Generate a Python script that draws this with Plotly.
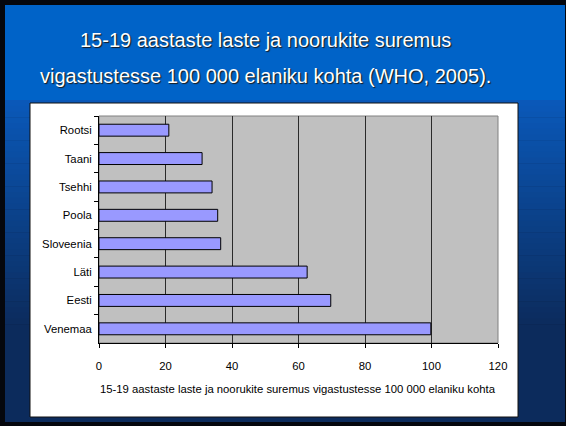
import plotly.graph_objects as go

# ---- data ----
countries = ["Rootsi", "Taani", "Tsehhi", "Poola", "Sloveenia", "Läti", "Eesti", "Venemaa"]
values = [21.0, 31.0, 34.0, 35.7, 36.6, 62.6, 69.7, 99.8]
x_ticks = [0, 20, 40, 60, 80, 100, 120]
title_line1 = "15-19 aastaste laste ja noorukite suremus"
title_line2 = "vigastustesse 100 000 elaniku kohta (WHO, 2005)."
x_title = "15-19 aastaste laste ja noorukite suremus vigastustesse 100 000 elaniku kohta"

W, H = 566, 426
L, R, T, B = 99, 498, 116, 343  # plot area in pixels


def px(x):
    return (x - L) / (R - L)


def py(y):
    return (B - y) / (B - T)


def lerp(c1, c2, t):
    return "#%02x%02x%02x" % tuple(int(round(a + (b - a) * t)) for a, b in zip(c1, c2))


shapes = []
# black slide frame
shapes.append(dict(type="rect", xref="paper", yref="paper", x0=px(0), x1=px(W), y0=py(H), y1=py(0),
                   fillcolor="#05070d", line_width=0, layer="below"))
# blue gradient background
mid_c = (10, 88, 184)
bot_c = (12, 43, 92)
shapes.append(dict(type="rect", xref="paper", yref="paper", x0=px(5), x1=px(W - 1), y0=py(100), y1=py(5),
                   fillcolor="#0063c8", line_width=0, layer="below"))
n = 40
y_start, y_end = 100, 330
for i in range(n):
    y0 = y_start + (y_end - y_start) * i / n
    y1 = y_start + (y_end - y_start) * (i + 1) / n + 0.5
    shapes.append(dict(type="rect", xref="paper", yref="paper", x0=px(5), x1=px(W - 1), y0=py(y1), y1=py(y0),
                       fillcolor=lerp(mid_c, bot_c, i / (n - 1)), line_width=0, layer="below"))
shapes.append(dict(type="rect", xref="paper", yref="paper", x0=px(5), x1=px(W - 1), y0=py(H - 4), y1=py(y_end),
                   fillcolor=lerp(mid_c, bot_c, 1), line_width=0, layer="below"))
# white chart box
shapes.append(dict(type="rect", xref="paper", yref="paper", x0=px(30), x1=px(518), y0=py(417), y1=py(103),
                   fillcolor="white", line=dict(color="#111111", width=1), layer="below"))
# gray plot area
shapes.append(dict(type="rect", xref="paper", yref="paper", x0=0, x1=1, y0=0, y1=1,
                   fillcolor="#c0c0c0", line=dict(color="#808080", width=1), layer="below"))

shadow = "1px 1px 1px #1a1a1a"
annotations = [
    dict(text=title_line1, xref="paper", yref="paper", x=px(265), y=py(40), showarrow=False,
         xanchor="center", yanchor="middle",
         font=dict(family="Liberation Sans, Arial, sans-serif", size=20, color="white", shadow=shadow)),
    dict(text=title_line2, xref="paper", yref="paper", x=px(265), y=py(76), showarrow=False,
         xanchor="center", yanchor="middle",
         font=dict(family="Liberation Sans, Arial, sans-serif", size=20, color="white", shadow=shadow)),
    dict(text=x_title, xref="paper", yref="paper", x=px(298), y=py(389), showarrow=False,
         xanchor="center", yanchor="middle",
         font=dict(family="Liberation Sans, Arial, sans-serif", size=11.3, color="black")),
]

fig = go.Figure(go.Bar(
    x=values, y=countries, orientation="h",
    marker=dict(color="#9999ff", line=dict(color="black", width=1)),
))

fig.update_layout(
    width=W, height=H,
    margin=dict(l=L, r=W - R, t=T, b=H - B, pad=0),
    paper_bgcolor="#05070d",
    plot_bgcolor="rgba(0,0,0,0)",
    showlegend=False,
    bargap=0.58,
    shapes=shapes,
    annotations=annotations,
    font=dict(family="Liberation Sans, Arial, sans-serif", size=11.3, color="black"),
    xaxis=dict(range=[0, 120], tickvals=x_ticks, ticktext=[str(v) for v in x_ticks],
               showgrid=True, gridcolor="#2a2a2a", gridwidth=1, zeroline=False,
               showline=True, linecolor="black", linewidth=1,
               ticks="outside", ticklen=4, tickcolor="black", ticklabelstandoff=8,
               tickfont=dict(size=11.3)),
    yaxis=dict(categoryorder="array", categoryarray=countries, autorange="reversed",
               showgrid=False, zeroline=False, showline=True, linecolor="black", linewidth=1,
               ticks="outside", ticklen=4, tickcolor="black", tickson="boundaries",
               ticklabelstandoff=4, tickfont=dict(size=11.3)),
)

fig.write_html(
    "out.html",
    config={"displayModeBar": False},
    post_script="document.body.style.margin='0';document.body.style.padding='0';"
                "document.documentElement.style.overflow='hidden';",
)
